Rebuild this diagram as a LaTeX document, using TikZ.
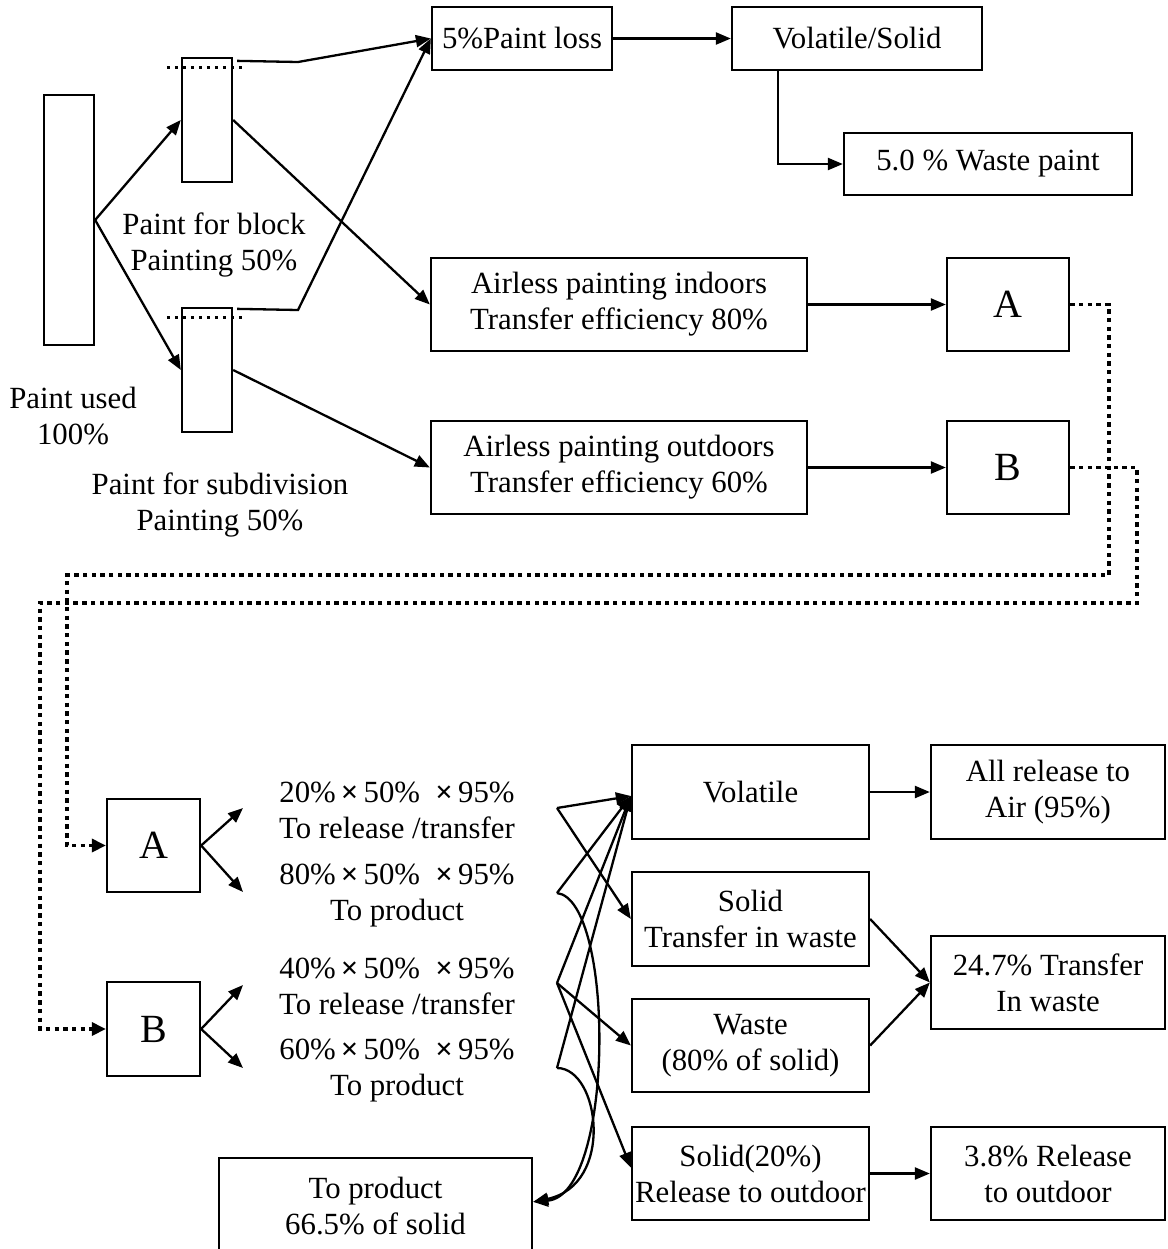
\documentclass[tikz,border=0pt]{standalone}
\usepackage{fontspec}
\setmainfont{Liberation Serif}
\usetikzlibrary{arrows.meta,calc}

\newcommand{\tms}{\,\textbf{×}\,}
\newcommand{\tmsb}{\textbf{×}\,}

\begin{document}
\begin{tikzpicture}[x=0.5pt,y=-0.5pt,
  every node/.style={font=\fontsize{15.4pt}{18pt}\selectfont},
  box/.style={draw, line width=1.15pt, inner sep=0pt, align=center},
  letter/.style={box, font=\fontsize{20pt}{22pt}\selectfont},
  txt/.style={align=center, inner sep=0pt},
  flow/.style={line width=1.15pt, -{Triangle[length=7.5pt 0 0,width=6pt 0 0]}},
  link/.style={line width=1.7pt, dash pattern=on 2.2pt off 2.15pt,
               -{Triangle[length=7pt 0 0,width=6.5pt 0 0]}},
  fine/.style={line width=1.4pt, dash pattern=on 1.4pt off 2.6pt},
]
\useasboundingbox (0,0) rectangle (1168,1249);
\clip (0,0) rectangle (1168,1249);

% ---------- paint split ----------
\node[box, minimum width=25pt, minimum height=125pt] (used) at (69,220) {};
\node[box, minimum width=25pt, minimum height=62pt] (blk) at (207,120) {};
\node[box, minimum width=25pt, minimum height=62pt] (sub) at (207,370) {};
\node[txt] (usedlbl) at (73,416) {Paint used\\100\%};
\node[txt] (blklbl) at (214,245) {Paint for block\\Painting 50\%};
\node[txt] (sublbl) at (220,505) {Paint for subdivision\\Painting 50\%};

% ---------- upper process ----------
\node[box, minimum width=90pt, minimum height=31.5pt] (loss) at (522,38.5) {5\%Paint loss};
\node[box, minimum width=125pt, minimum height=31.5pt] (vs) at (857,38.5) {Volatile/Solid};
\node[box, minimum width=144pt, minimum height=31pt] (wp) at (988,164) {5.0 \% Waste paint};
\node[box, minimum width=188pt, minimum height=46.5pt] (ind) at (619,304.5)
  {Airless painting indoors\\Transfer efficiency 80\%};
\node[box, minimum width=188pt, minimum height=46.5pt] (outd) at (619,467.5)
  {Airless painting outdoors\\Transfer efficiency 60\%};
\node[letter, minimum width=61pt, minimum height=46.5pt] (ta) at (1008,304.5) {A};
\node[letter, minimum width=61pt, minimum height=46.5pt] (tb) at (1008,467.5) {B};

% ---------- lower process ----------
\node[letter, minimum width=46.5pt, minimum height=46.5pt] (ba) at (153.5,845.5) {A};
\node[letter, minimum width=46.5pt, minimum height=47pt] (bb) at (153.5,1029) {B};

\node[txt] (ta1) at (397,810) {20\%\tms50\%\ \ \tmsb95\%\\To release /transfer};
\node[txt] (ta2) at (397,896) {80\%\tms50\%\ \ \tmsb95\%\\To product};
\node[txt] (tb1) at (397,986) {40\%\tms50\%\ \ \tmsb95\%\\To release /transfer};
\node[txt] (tb2) at (397,1071) {60\%\tms50\%\ \ \tmsb95\%\\To product};

\node[box, minimum width=118.5pt, minimum height=47pt] (vol) at (750.5,792) {Volatile};
\node[box, minimum width=117pt, minimum height=47pt] (air) at (1048,792) {All release to\\Air (95\%)};
\node[box, minimum width=118.5pt, minimum height=47pt] (sol) at (750.5,919) {Solid\\Transfer in waste};
\node[box, minimum width=117pt, minimum height=46.5pt] (tw) at (1048,982.5) {24.7\% Transfer\\In waste};
\node[box, minimum width=118.5pt, minimum height=46.5pt] (wst) at (750.5,1045.5) {Waste\\(80\% of solid)};
\node[box, minimum width=118.5pt, minimum height=46.5pt] (s20) at (750.5,1173.5) {Solid(20\%)\\Release to outdoor};
\node[box, minimum width=117pt, minimum height=46.5pt] (rel) at (1048,1173.5) {3.8\% Release\\to outdoor};
\node[box, minimum width=156.5pt, minimum height=70pt] (prod) at (375.5,1228) {};
\node[txt] (prodlbl) at (375.5,1206) {To product\\66.5\% of solid};

% ---------- bend points and free ends ----------
\coordinate (kb) at (298,62);
\coordinate (ks) at (298,310);
\coordinate (ra) at (1109,575);
\coordinate (la) at (67,575);
\coordinate (rb) at (1137,603);
\coordinate (lb) at (40,603);
\coordinate (a1) at (243,808);
\coordinate (a2) at (243,892);
\coordinate (b1) at (243,985);
\coordinate (b2) at (243,1068);
\coordinate (p1) at (557,808);
\coordinate (p2) at (557,893);
\coordinate (p3) at (557,983);
\coordinate (p4) at (557,1068);
\coordinate (vin) at ($(vol.west)+(0,4)$);
\coordinate (pin) at ($(prod.north east)+(0,45)$);

% ---------- connectors: split ----------
\draw[flow] (used.east) -- (blk.west);
\draw[flow] (used.east) -- (sub.west);
\draw[flow] (blk.east) -- (ind.west);
\draw[flow] (sub.east) -- (outd.west);
\draw[flow] ($(blk.north east)+(4,4)$) -- (kb) -- (loss.west);
\draw[flow] ($(sub.north east)+(4,2)$) -- (ks) -- (loss.west);
\draw[fine] ($(blk.north west)+(-14,11)$) -- ($(blk.north east)+(12,11)$);
\draw[fine] ($(sub.north west)+(-14,11)$) -- ($(sub.north east)+(12,11)$);

% ---------- connectors: upper ----------
\draw[flow] (loss) -- (vs);
\draw[flow] ($(vs.south west)+(47,0)$) |- (wp.west);
\draw[flow] (ind) -- (ta);
\draw[flow] (outd) -- (tb);
\draw[link] (ta.east) -| (ra) -- (la) |- (ba.west);
\draw[link] (tb.east) -| (rb) -- (lb) |- (bb.west);

% ---------- connectors: lower ----------
\draw[flow] (ba.east) -- (a1);
\draw[flow] (ba.east) -- (a2);
\draw[flow] (bb.east) -- (b1);
\draw[flow] (bb.east) -- (b2);

\draw[flow] (p1) -- (vin);
\draw[flow] (p1) -- (sol.west);
\draw[flow] (p2) -- (vin);
\draw[flow] (p3) -- (vin);
\draw[flow] (p3) -- (wst.west);
\draw[flow] (p3) -- ($(s20.west)+(0,-6)$);
\draw[flow] (p4) -- (vin);
\draw[flow] (p2) .. controls (615,900) and (615,1195) .. (pin);
\draw[flow] (p4) .. controls (600,1068) and (615,1185) .. (pin);

\draw[flow] (vol) -- (air);
\draw[flow] (sol.east) -- (tw.west);
\draw[flow] (wst.east) -- (tw.west);
\draw[flow] (s20) -- (rel);
\end{tikzpicture}
\end{document}
